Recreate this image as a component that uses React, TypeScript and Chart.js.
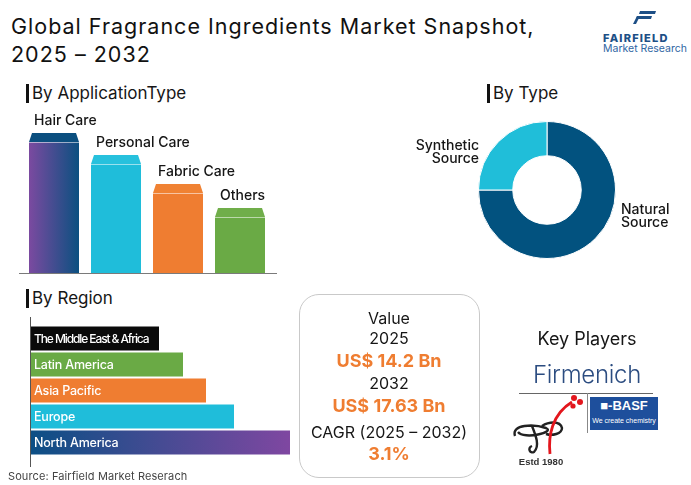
import React, { useEffect, useRef } from "react";
import { Chart, registerables } from "chart.js";

Chart.register(...registerables);

const FONT = "Inter, 'Open Sans', sans-serif";

// ---- Data ----
const appCategories = ["Hair Care", "Personal Care", "Fabric Care", "Others"];
const appValues = [140, 118, 89, 65];
const appColors = ["#0b5080", "#1fbdda", "#ef7d31", "#6aaa45"];
const appCapColors = ["#0b4f7f", "#27c1dd", "#f08233", "#70ae4a"];

const typeCategories = ["Natural Source", "Synthetic Source"];
const typeValues = [75, 25];
const typeColors = ["#02527f", "#20bed9"];

const regionCategories = [
  "The Middle East & Africa",
  "Latin America",
  "Asia Pacific",
  "Europe",
  "North America",
];
const regionValues = [128, 152, 175, 203, 259];
const regionColors = ["#0a0a0a", "#6aaa45", "#ef7d31", "#1fbdda", "#0c4f85"];

const valueLines = [
  { text: "Value", kind: "label" },
  { text: "2025", kind: "label" },
  { text: "US$ 14.2 Bn", kind: "value" },
  { text: "2032", kind: "label" },
  { text: "US$ 17.63 Bn", kind: "value" },
  { text: "CAGR (2025 – 2032)", kind: "label" },
  { text: "3.1%", kind: "value" },
];

function AppChart() {
  const ref = useRef<HTMLCanvasElement>(null);
  useEffect(() => {
    const canvas = ref.current!;
    const catPct = 50 / 62;
    const capPlugin = {
      id: "caps",
      afterDatasetsDraw(chart: any) {
        const ctx = chart.ctx;
        const ca = chart.chartArea;
        ctx.save();
        ctx.strokeStyle = "#7a7a7a";
        ctx.lineWidth = 1;
        ctx.beginPath();
        ctx.moveTo(ca.left - 4, Math.round(ca.bottom) + 0.5);
        ctx.lineTo(ca.right + 6, Math.round(ca.bottom) + 0.5);
        ctx.stroke();
        const meta = chart.getDatasetMeta(0);
        meta.data.forEach((bar: any, i: number) => {
          const p = bar.getProps(["x", "y", "width"], true);
          const l = p.x - p.width / 2;
          const r = p.x + p.width / 2;
          const top = p.y;
          const capH = 9;
          const inset = 3;
          ctx.fillStyle = "#ffffff";
          ctx.fillRect(l - 1, top - 1, p.width + 2, capH + 1);
          ctx.fillStyle = appCapColors[i];
          ctx.beginPath();
          ctx.moveTo(l, top + capH);
          ctx.lineTo(l + inset, top);
          ctx.lineTo(r - inset, top);
          ctx.lineTo(r, top + capH);
          ctx.closePath();
          ctx.fill();
          ctx.strokeStyle = "rgba(255,255,255,0.55)";
          ctx.beginPath();
          ctx.moveTo(l, top + capH + 0.5);
          ctx.lineTo(r, top + capH + 0.5);
          ctx.stroke();
          ctx.fillStyle = "#161616";
          ctx.font = `500 14px ${FONT}`;
          ctx.textBaseline = "middle";
          ctx.textAlign = "left";
          ctx.fillText(appCategories[i], l + 5, top - 12);
        });
        ctx.restore();
      },
    };
    const chart = new Chart(canvas, {
      type: "bar",
      data: {
        labels: appCategories,
        datasets: [
          {
            data: appValues,
            backgroundColor: (c: any) => {
              const i = c.dataIndex;
              const ch = c.chart;
              if (i !== 0 || !ch.chartArea) return appColors[i];
              const ca = ch.chartArea;
              const cx = ch.scales.x.getPixelForValue(i);
              const w = ((ca.right - ca.left) / appValues.length) * catPct;
              const g = ch.ctx.createLinearGradient(cx - w / 2, 0, cx + w / 2, 0);
              g.addColorStop(0, "#7b4aa0");
              g.addColorStop(1, "#0b5080");
              return g;
            },
            borderWidth: 0,
            barPercentage: 1,
            categoryPercentage: catPct,
          },
        ],
      },
      options: {
        animation: false,
        responsive: false,
        maintainAspectRatio: false,
        layout: { padding: { left: 23, right: 29, top: 23, bottom: 7 } },
        plugins: { legend: { display: false }, tooltip: { enabled: false } },
        scales: {
          x: { display: false },
          y: { display: false, min: 0, max: 150 },
        },
      },
      plugins: [capPlugin],
    });
    return () => chart.destroy();
  }, []);
  return (
    <canvas
      ref={ref}
      width={300}
      height={180}
      style={{ position: "absolute", left: 0, top: 100, width: 300, height: 180 }}
    />
  );
}

function TypeChart() {
  const ref = useRef<HTMLCanvasElement>(null);
  useEffect(() => {
    const chart = new Chart(ref.current!, {
      type: "doughnut",
      data: {
        labels: typeCategories,
        datasets: [
          {
            data: typeValues,
            backgroundColor: typeColors,
            borderColor: "#ffffff",
            borderWidth: 1,
          },
        ],
      },
      options: {
        animation: false,
        responsive: false,
        maintainAspectRatio: false,
        cutout: "50%",
        layout: { padding: 6 },
        plugins: { legend: { display: false }, tooltip: { enabled: false } },
      },
    });
    return () => chart.destroy();
  }, []);
  return (
    <canvas
      ref={ref}
      width={150}
      height={150}
      style={{ position: "absolute", left: 472, top: 115, width: 150, height: 150 }}
    />
  );
}

function RegionChart() {
  const ref = useRef<HTMLCanvasElement>(null);
  useEffect(() => {
    const labelPlugin = {
      id: "regionLabels",
      afterDatasetsDraw(chart: any) {
        const ctx = chart.ctx;
        const ca = chart.chartArea;
        ctx.save();
        ctx.strokeStyle = "#555555";
        ctx.lineWidth = 1;
        ctx.beginPath();
        ctx.moveTo(Math.round(ca.left) - 0.5, ca.top - 8.5);
        ctx.lineTo(Math.round(ca.left) - 0.5, ca.bottom + 11.5);
        ctx.stroke();
        const meta = chart.getDatasetMeta(0);
        meta.data.forEach((bar: any, i: number) => {
          const p = bar.getProps(["y"], true);
          ctx.fillStyle = "#ffffff";
          ctx.textBaseline = "middle";
          ctx.textAlign = "left";
          if (i === 0) {
            ctx.font = `500 12px ${FONT}`;
            (ctx as any).letterSpacing = "-1.1px";
          } else {
            ctx.font = `500 12.5px ${FONT}`;
            (ctx as any).letterSpacing = "-0.2px";
          }
          ctx.fillText(regionCategories[i], ca.left + 3, p.y + 0.5);
        });
        (ctx as any).letterSpacing = "0px";
        ctx.restore();
      },
    };
    const chart = new Chart(ref.current!, {
      type: "bar",
      data: {
        labels: regionCategories,
        datasets: [
          {
            data: regionValues,
            backgroundColor: (c: any) => {
              const i = c.dataIndex;
              const ch = c.chart;
              if (i !== regionValues.length - 1 || !ch.chartArea) return regionColors[i];
              const x0 = ch.chartArea.left;
              const x1 = ch.scales.x.getPixelForValue(regionValues[i]);
              const g = ch.ctx.createLinearGradient(x0, 0, x1, 0);
              g.addColorStop(0, "#0c4f85");
              g.addColorStop(1, "#7f47a1");
              return g;
            },
            borderWidth: 0,
            barPercentage: 24 / 26,
            categoryPercentage: 1,
          },
        ],
      },
      options: {
        indexAxis: "y",
        animation: false,
        responsive: false,
        maintainAspectRatio: false,
        layout: { padding: { left: 31, right: 9, top: 10.5, bottom: 14.5 } },
        plugins: { legend: { display: false }, tooltip: { enabled: false } },
        scales: {
          x: { display: false, min: 0, max: 270 },
          y: { display: false },
        },
      },
      plugins: [labelPlugin],
    });
    return () => chart.destroy();
  }, []);
  return (
    <canvas
      ref={ref}
      width={310}
      height={155}
      style={{ position: "absolute", left: 0, top: 315, width: 310, height: 155 }}
    />
  );
}

function Header({ x, y, text }: { x: number; y: number; text: string }) {
  return (
    <>
      <div
        style={{
          position: "absolute",
          left: x,
          top: y - 9,
          width: 3,
          height: 19,
          background: "#111",
        }}
      />
      <div
        style={{
          position: "absolute",
          left: x + 6,
          top: y - 11,
          height: 22,
          lineHeight: "22px",
          fontSize: 17,
          color: "#161616",
          whiteSpace: "nowrap",
        }}
      >
        {text}
      </div>
    </>
  );
}

function Txt(props: {
  x: number;
  y: number;
  size: number;
  text: string;
  weight?: number;
  color?: string;
  align?: "left" | "right" | "center";
  ls?: number;
  family?: string;
}) {
  const { x, y, size, text, weight = 400, color = "#161616", align = "left", ls = 0 } = props;
  const h = Math.round(size * 1.4);
  const style: any = {
    position: "absolute",
    top: y - h / 2,
    height: h,
    lineHeight: h + "px",
    fontSize: size,
    fontWeight: weight,
    color,
    whiteSpace: "nowrap",
    letterSpacing: ls,
    fontFamily: props.family || FONT,
  };
  if (align === "left") style.left = x;
  else if (align === "right") style.right = 691 - x;
  else {
    style.left = x - 150;
    style.width = 300;
    style.textAlign = "center";
  }
  return <div style={style}>{text}</div>;
}

export default function App() {
  const valueY = [318, 338, 360, 383, 405, 432, 453];
  return (
    <div
      style={{
        position: "relative",
        width: 691,
        height: 485,
        background: "#ffffff",
        fontFamily: FONT,
        overflow: "hidden",
      }}
    >
      <style>{`body{margin:0;background:#fff}`}</style>
      {/* Title */}
      <Txt x={11} y={26} size={21.5} ls={1} text="Global Fragrance Ingredients Market Snapshot," color="#111" />
      <Txt x={11} y={54} size={21.5} ls={1} text="2025 – 2032" color="#111" />

      {/* Fairfield logo */}
      <svg
        width={30}
        height={16}
        viewBox="0 0 30 16"
        style={{ position: "absolute", left: 630, top: 10 }}
      >
        <polygon points="10,1 26,1 25,4 9,4" fill="#1d4f86" />
        <polygon points="7,6 22,6 21,9 6,9" fill="#1d4f86" />
        <polygon points="7,6 10,6 6,14 3,14" fill="#1d4f86" />
      </svg>
      <Txt x={603} y={38} size={11} weight={800} text="FAIRFIELD" color="#1d4f86" ls={1.2} />
      <Txt x={603} y={48} size={10.5} text="Market Research" color="#2f66a3" />

      {/* By Application Type */}
      <Header x={26} y={93} text="By ApplicationType" />
      <AppChart />

      {/* By Type */}
      <Header x={487} y={93} text="By Type" />
      <TypeChart />
      <Txt x={479} y={145} size={14} weight={500} align="right" text="Synthetic" />
      <Txt x={479} y={158} size={14} weight={500} align="right" text="Source" />
      <Txt x={621} y={209} size={14} weight={500} text="Natural" />
      <Txt x={621} y={222} size={14} weight={500} text="Source" />

      {/* By Region */}
      <Header x={26} y={298} text="By Region" />
      <RegionChart />
      <Txt x={8} y={476} size={11} text="Source: Fairfield Market Reserach" color="#444" ls={0.1} />

      {/* Value box */}
      <div
        style={{
          position: "absolute",
          left: 299,
          top: 294,
          width: 179,
          height: 182,
          border: "1px solid #c9c9c9",
          borderRadius: 20,
        }}
      />
      {valueLines.map((l, i) => (
        <Txt
          key={i}
          x={389}
          y={valueY[i]}
          size={l.kind === "value" ? 18 : 16}
          weight={l.kind === "value" ? 700 : 400}
          color={l.kind === "value" ? "#ef7d31" : "#161616"}
          align="center"
          text={l.text}
        />
      ))}

      {/* Key players */}
      <Txt x={587} y={338} size={18} align="center" text="Key Players" />
      <Txt x={587} y={375} size={24} weight={300} align="center" text="Firmenich" color="#2b4c80" ls={-0.3} />
      <div style={{ position: "absolute", left: 519, top: 393, width: 134, height: 1, background: "#666" }} />
      <div style={{ position: "absolute", left: 587, top: 393, width: 1, height: 40, background: "#888" }} />
      <div
        style={{
          position: "absolute",
          left: 590,
          top: 397,
          width: 68,
          height: 33,
          background: "#1e4f9c",
        }}
      />
      <div
        style={{
          position: "absolute",
          left: 590,
          top: 398,
          width: 68,
          textAlign: "center",
          color: "#fff",
          fontWeight: 800,
          fontSize: 13,
          lineHeight: "16px",
          fontFamily: "'Liberation Sans', Arial, sans-serif",
        }}
      >
        ■-BASF
      </div>
      <div
        style={{
          position: "absolute",
          left: 590,
          top: 416,
          width: 68,
          textAlign: "center",
          color: "#fff",
          fontSize: 7,
          lineHeight: "10px",
          fontFamily: "'Liberation Sans', Arial, sans-serif",
        }}
      >
        We create chemistry
      </div>
      {/* Fragrance company logo */}
      <svg width={72} height={64} viewBox="0 0 72 64" style={{ position: "absolute", left: 512, top: 392 }}>
        <path
          d="M3 44 C -1 32, 22 32, 34 36 C 44 40, 12 48, 6 40 M20 34 C 24 44, 28 54, 22 60 C 18 62, 15 56, 20 54 M30 34 C 36 30, 48 28, 50 36 C 50 42, 40 44, 34 42"
          stroke="#222"
          strokeWidth={2.4}
          fill="none"
        />
        <path d="M38 62 C 36 44, 40 22, 60 10" stroke="#e3161d" strokeWidth={2.8} fill="none" />
        <circle cx={62} cy={6} r={3} fill="#e3161d" />
        <circle cx={68} cy={10} r={3} fill="#e3161d" />
        <circle cx={61} cy={14} r={2.6} fill="#e3161d" />
      </svg>
      <Txt x={541} y={461} size={9.5} weight={700} align="center" text="Estd 1980" color="#333" family="'Liberation Sans', Arial, sans-serif" />
    </div>
  );
}
